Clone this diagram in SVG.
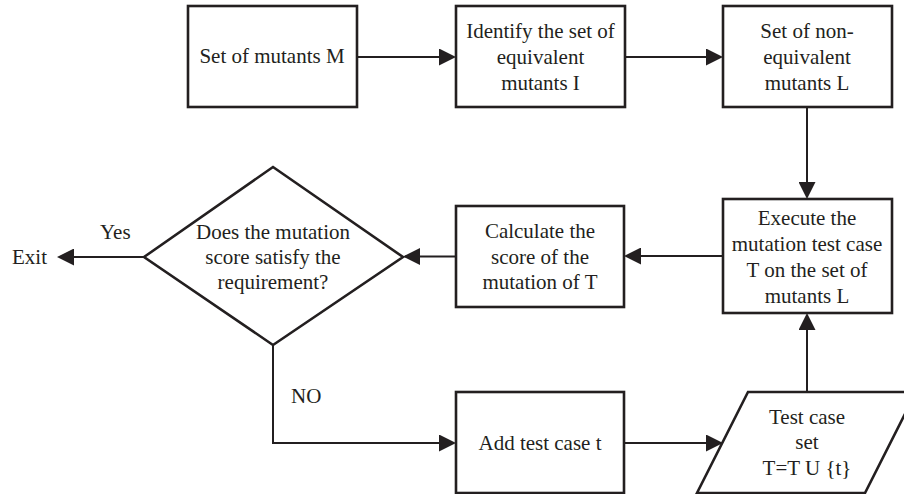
<svg xmlns="http://www.w3.org/2000/svg" width="904" height="494" viewBox="0 0 904 494" font-family="'Liberation Serif', 'DejaVu Serif', serif">
<style>
  .box { fill: #ffffff; stroke: #231f20; stroke-width: 2.6; }
  .conn { fill: none; stroke: #231f20; stroke-width: 2; marker-end: url(#arrow); }
  text { font-family: 'Liberation Serif', 'DejaVu Serif', serif; font-size: 21px; fill: #231f20; text-anchor: middle; }
  .lbl { text-anchor: start; }
</style>
<defs>
  <marker id="arrow" markerUnits="userSpaceOnUse" markerWidth="18" markerHeight="17" refX="15" refY="8.5" orient="auto">
    <path d="M0,0 L17,8.5 L0,17 z" fill="#231f20"/>
  </marker>
</defs>
<rect width="904" height="494" fill="#ffffff"/>

<g id="connectors">
  <line class="conn" x1="357" y1="57" x2="454" y2="57"/>
  <line class="conn" x1="625" y1="57" x2="721" y2="57"/>
  <line class="conn" x1="807" y1="107" x2="807" y2="197"/>
  <line class="conn" x1="723" y1="256" x2="626" y2="256"/>
  <line class="conn" x1="456" y1="256.5" x2="405" y2="256.5"/>
  <line class="conn" x1="144" y1="257" x2="59" y2="257"/>
  <polyline class="conn" points="273,345 273,443 454,443"/>
  <line class="conn" x1="624" y1="443" x2="721" y2="443"/>
  <line class="conn" x1="807" y1="392" x2="807" y2="315"/>
</g>

<g id="node-set-mutants">
  <rect class="box" x="188" y="6" width="169" height="101"/>
  <text x="272" y="63">Set of mutants M</text>
</g>

<g id="node-identify">
  <rect class="box" x="456" y="6" width="169" height="101"/>
  <text x="540.5" y="38">Identify the set of</text>
  <text x="540.5" y="64">equivalent</text>
  <text x="540.5" y="90">mutants I</text>
</g>

<g id="node-non-equivalent">
  <rect class="box" x="723" y="6" width="169" height="101"/>
  <text x="807" y="38">Set of non-</text>
  <text x="807" y="64">equivalent</text>
  <text x="807" y="90">mutants L</text>
</g>

<g id="node-execute">
  <rect class="box" x="723" y="199" width="169" height="114"/>
  <text x="807" y="225">Execute the</text>
  <text x="807" y="251">mutation test case</text>
  <text x="807" y="277">T on the set of</text>
  <text x="807" y="303">mutants L</text>
</g>

<g id="node-calculate">
  <rect class="box" x="456" y="206" width="168" height="101"/>
  <text x="540" y="238">Calculate the</text>
  <text x="540" y="264">score of the</text>
  <text x="540" y="289">mutation of T</text>
</g>

<g id="node-decision">
  <polygon class="box" points="144,257 273,167 403,257 273,345"/>
  <text x="273" y="239">Does the mutation</text>
  <text x="273" y="264">score satisfy the</text>
  <text x="273" y="289">requirement?</text>
</g>

<g id="node-exit">
  <text class="lbl" x="12" y="264">Exit</text>
</g>

<g id="labels">
  <text class="lbl" x="100" y="239">Yes</text>
  <text class="lbl" x="291" y="403">NO</text>
</g>

<g id="node-add-test">
  <rect class="box" x="456" y="392" width="168" height="101"/>
  <text x="540" y="450">Add test case t</text>
</g>

<g id="node-test-set">
  <polygon class="box" points="748,392 916,392 865,493 697,493"/>
  <text x="807" y="424">Test case</text>
  <text x="807" y="449">set</text>
  <text x="807" y="475">T=T U {t}</text>
</g>
</svg>
